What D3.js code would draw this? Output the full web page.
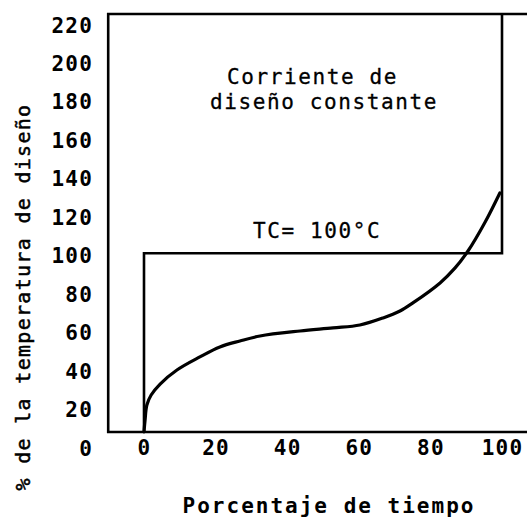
<!DOCTYPE html>
<html>
<head>
<meta charset="utf-8">
<script src="https://cdn.jsdelivr.net/npm/d3@7"></script>
<style>
  html, body { margin: 0; padding: 0; background: #fff; }
  svg { display: block; }
  text { font-family: "DejaVu Sans Mono", "Liberation Mono", monospace; fill: #000; }
</style>
</head>
<body>
<svg id="chart" width="527" height="522"></svg>
<script>
// ---- data ----
const xTicks = [0, 20, 40, 60, 80, 100];
const yTicks = [0, 20, 40, 60, 80, 100, 120, 140, 160, 180, 200, 220];
const curveX = [0, 0.3, 0.8, 2.0, 4.5, 9.2, 15.6, 21.2, 26.8, 32.4, 43.6, 52.8, 60.3, 66.8, 71.5, 75.1, 82.7, 86.9, 90.5, 95.3, 99.4];
const curveY = [8.1, 14.3, 22.1, 27.3, 33.0, 40.3, 47.1, 52.3, 55.4, 58.0, 60.6, 62.2, 63.7, 67.4, 71.0, 75.2, 85.6, 93.4, 102.2, 117.3, 132.4];
// constant design-current step: 0 -> 100 % at t = 0, held to t = 100, then up to top
const stepX = [0, 0, 100, 100];
const stepY = [8.1, 101, 101, 225.5];
const frameX = [-10, 107];   // extent of the drawn frame (x values)
const frameY = [8.1, 225.5]; // extent of the drawn frame (y values)
const xTitle = "Porcentaje de tiempo";
const yTitle = "% de la temperatura de diseño";
const noteLines = ["Corriente de", "diseño constante"];
const tcLabel = "TC= 100°C";

// ---- scales ----
const x = d3.scaleLinear().domain([0, 100]).range([144, 502]);
const y = d3.scaleLinear().domain([0, 220]).range([447.5, 24.5]);

const svg = d3.select("#chart");
svg.append("rect").attr("width", 527).attr("height", 522).attr("fill", "#fff");

// ---- frame (left, top, bottom) ----
const frame = d3.line().x(d => x(d[0])).y(d => y(d[1]));
svg.append("path")
  .attr("d", frame([[frameX[1], frameY[1]], [frameX[0], frameY[1]], [frameX[0], frameY[0]], [frameX[1], frameY[0]]]))
  .attr("fill", "none").attr("stroke", "#000").attr("stroke-width", 2.6);

// ---- step line (design current) ----
svg.append("path")
  .attr("d", frame(stepX.map((v, i) => [v, stepY[i]])))
  .attr("fill", "none").attr("stroke", "#000").attr("stroke-width", 2.6);

// ---- temperature curve ----
const curve = d3.line().x(d => x(d[0])).y(d => y(d[1])).curve(d3.curveCatmullRom.alpha(0.5));
svg.append("path")
  .attr("d", curve(curveX.map((v, i) => [v, curveY[i]])))
  .attr("fill", "none").attr("stroke", "#000").attr("stroke-width", 3.2)
  .attr("stroke-linecap", "round");

// ---- axes (labels only, no tick marks) ----
const yAxis = d3.axisLeft(y).tickValues(yTicks).tickSize(0).tickPadding(0);
const gy = svg.append("g").attr("transform", "translate(93,0)").call(yAxis);
gy.select(".domain").remove();
gy.selectAll("text")
  .attr("font-family", "DejaVu Sans Mono").attr("font-weight", "bold")
  .attr("font-size", 21).attr("letter-spacing", "1.2px")
  .attr("dy", "0.36em").attr("fill", "#000");

const xAxis = d3.axisBottom(x).tickValues(xTicks).tickSize(0).tickPadding(0);
const gx = svg.append("g").attr("transform", "translate(0,447.5)").call(xAxis);
gx.select(".domain").remove();
gx.selectAll("text")
  .attr("font-family", "DejaVu Sans Mono").attr("font-weight", "bold")
  .attr("font-size", 21).attr("letter-spacing", "1.2px")
  .attr("dy", "0.36em").attr("fill", "#000");

// ---- titles ----
svg.append("text")
  .attr("x", 329).attr("y", 505).attr("dy", "0.36em")
  .attr("text-anchor", "middle")
  .attr("font-size", 21).attr("font-weight", "bold").attr("letter-spacing", "2px")
  .text(xTitle);

svg.append("text")
  .attr("transform", "translate(23,297) rotate(-90)")
  .attr("dy", "0.36em")
  .attr("text-anchor", "middle")
  .attr("font-size", 20).attr("letter-spacing", "1.3px")
  .attr("stroke", "#000").attr("stroke-width", 0.5)
  .text(yTitle);

// ---- annotations ----
svg.append("text").attr("x", 227).attr("y", 76).attr("dy", "0.36em")
  .attr("font-size", 21).attr("letter-spacing", "1.6px")
  .attr("stroke", "#000").attr("stroke-width", 0.3).text(noteLines[0]);
svg.append("text").attr("x", 210).attr("y", 101).attr("dy", "0.36em")
  .attr("font-size", 21).attr("letter-spacing", "1.6px")
  .attr("stroke", "#000").attr("stroke-width", 0.3).text(noteLines[1]);
svg.append("text").attr("x", 253).attr("y", 230).attr("dy", "0.36em")
  .attr("font-size", 21).attr("letter-spacing", "1.6px")
  .attr("stroke", "#000").attr("stroke-width", 0.3).text(tcLabel);
</script>
</body>
</html>
